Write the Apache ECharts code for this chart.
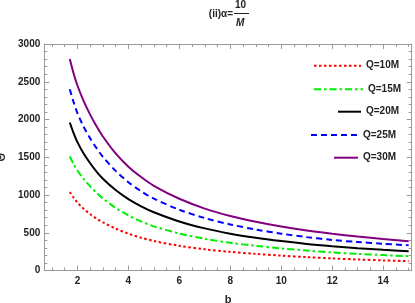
<!DOCTYPE html>
<html>
<head>
<meta charset="utf-8">
<script src="https://cdn.jsdelivr.net/npm/echarts@6/dist/echarts.min.js"></script>
<style>html,body{margin:0;padding:0;background:#fff}#c{width:415px;height:303px}</style>
</head>
<body>
<div id="c"></div>
<script>
const bValues = [1.7, 1.85, 2, 2.25, 2.5, 2.75, 3, 3.5, 4, 4.5, 5, 6, 7, 8, 9, 10, 11, 12, 13, 14, 15];
const q10 = [1040, 965, 900, 815, 745, 688, 638, 555, 488, 434, 392, 327, 281, 247, 220, 197, 177, 160, 146, 134, 123];
const q15 = [1510, 1410, 1325, 1210, 1115, 1030, 955, 830, 730, 650, 585, 490, 420, 367, 327, 293, 264, 240, 220, 204, 190];
const q20 = [1960, 1820, 1700, 1545, 1420, 1310, 1215, 1065, 945, 850, 772, 650, 558, 488, 434, 390, 352, 322, 296, 274, 255];
const q25 = [2400, 2230, 2085, 1900, 1750, 1620, 1505, 1320, 1170, 1050, 952, 805, 695, 610, 543, 488, 442, 405, 377, 354, 334];
const q30 = [2800, 2610, 2450, 2240, 2065, 1910, 1775, 1550, 1375, 1238, 1122, 950, 820, 722, 645, 582, 530, 487, 450, 418, 389];
const seriesNames = ['Q=10M', 'Q=15M', 'Q=20M', 'Q=25M', 'Q=30M'];
const xMajorTicks = [2, 4, 6, 8, 10, 12, 14];
const xMinorTicks = [1, 1.5, 2.5, 3, 3.5, 4.5, 5, 5.5, 6.5, 7, 7.5, 8.5, 9, 9.5, 10.5, 11, 11.5, 12.5, 13, 13.5, 14.5, 15];
const yMajorTicks = [0, 500, 1000, 1500, 2000, 2500, 3000];
const yMinorTicks = [100, 200, 300, 400, 600, 700, 800, 900, 1100, 1200, 1300, 1400, 1600, 1700, 1800, 1900, 2100, 2200, 2300, 2400, 2600, 2700, 2800, 2900];

const XMIN = 0.7, XMAX = 15.12, YMIN = 0, YMAX = 3000;
const frameColor = '#9a9a9a';
const tf = 'Liberation Sans, Arial, sans-serif';
const labelStyle = {color: '#222', fontWeight: 'bold', fontSize: 10, fontFamily: tf};

function pairs(vals) { return bValues.map((b, i) => [b, vals[i]]); }

function xAx(pos, ticks, len, showLabel, showLine) {
  return {
    type: 'value', position: pos, min: XMIN, max: XMAX,
    axisLine: {show: showLine, onZero: false, lineStyle: {color: frameColor, width: 1}},
    axisTick: {show: true, inside: true, length: len, customValues: ticks, lineStyle: {color: frameColor}},
    axisLabel: showLabel ? Object.assign({show: true, customValues: ticks, margin: 6, formatter: v => String(v)}, labelStyle) : {show: false},
    splitLine: {show: false}
  };
}
function yAx(pos, ticks, len, showLabel, showLine) {
  return {
    type: 'value', position: pos, min: YMIN, max: YMAX,
    axisLine: {show: showLine, onZero: false, lineStyle: {color: frameColor, width: 1}},
    axisTick: {show: true, inside: true, length: len, customValues: ticks, lineStyle: {color: frameColor}},
    axisLabel: showLabel ? Object.assign({show: true, customValues: ticks, margin: 4, formatter: v => String(v)}, labelStyle) : {show: false},
    splitLine: {show: false}
  };
}

const xAxes = [
  xAx('bottom', xMajorTicks, 5, true, true),
  xAx('bottom', xMinorTicks, 3, false, false),
  xAx('top', xMajorTicks, 5, false, true),
  xAx('top', xMinorTicks, 3, false, false)
];
xAxes[0].name = 'b';
xAxes[0].nameLocation = 'middle';
xAxes[0].nameGap = 24;
xAxes[0].nameTextStyle = {color: '#222', fontWeight: 'bold', fontSize: 11, fontFamily: tf};

const yAxes = [
  yAx('left', yMajorTicks, 5, true, true),
  yAx('left', yMinorTicks, 3, false, false),
  yAx('right', yMajorTicks, 5, false, true),
  yAx('right', yMinorTicks, 3, false, false)
];
yAxes[0].name = 'Θ';
yAxes[0].nameLocation = 'middle';
yAxes[0].nameGap = 32;
yAxes[0].nameRotate = 90;
yAxes[0].nameTextStyle = {color: '#222', fontWeight: 'bold', fontSize: 11, fontFamily: tf};

const styles = [
  {color: '#ff0000', type: [2.5, 2.5], width: 2},
  {color: '#00ee00', type: [7, 3, 2.5, 3], width: 2},
  {color: '#000000', type: 'solid', width: 2},
  {color: '#0000ff', type: [6, 4], width: 2},
  {color: '#800080', type: 'solid', width: 2}
];
const allData = [q10, q15, q20, q25, q30];

const series = allData.map((d, i) => ({
  name: seriesNames[i], type: 'line', data: pairs(d), smooth: 0.3,
  symbol: 'none', xAxisIndex: 0, yAxisIndex: 0,
  lineStyle: styles[i], itemStyle: {color: styles[i].color}, z: 2 + i
}));

const legendPos = [
  {left: 313, top: 60.7, w: 47},
  {left: 313, top: 84.3, w: 49},
  {left: 337, top: 106.7, w: 23},
  {left: 310, top: 130, w: 47},
  {left: 333, top: 152.7, w: 24}
];
const legends = legendPos.map((p, i) => ({
  data: [seriesNames[i]], left: p.left, top: p.top, itemWidth: p.w, itemHeight: 10,
  padding: 0, orient: 'vertical', selectedMode: false,
  itemStyle: {opacity: 0},
  textStyle: {color: '#222', fontWeight: 'bold', fontSize: 10, fontFamily: tf}
}));

const chart = echarts.init(document.getElementById('c'), null, {renderer: 'canvas'});
chart.setOption({
  animation: false,
  backgroundColor: '#fff',
  grid: {left: 44.3, right: 3.3, top: 44, bottom: 32.5, containLabel: false, outerBoundsMode: 'none'},
  xAxis: xAxes,
  yAxis: yAxes,
  legend: legends,
  series: series,
  graphic: [
    {type: 'text', right: 415 - 233, top: 9, style: {text: '(ii)α=', font: 'bold 10px ' + tf, fill: '#222'}},
    {type: 'text', left: 235, top: 0, style: {text: '10', font: 'bold 10px ' + tf, fill: '#222'}},
    {type: 'line', shape: {x1: 234, y1: 13.5, x2: 249, y2: 13.5}, style: {stroke: '#222', lineWidth: 1}},
    {type: 'text', left: 236, top: 18, style: {text: 'M', font: 'italic bold 10px ' + tf, fill: '#222'}}
  ]
});
</script>
</body>
</html>
